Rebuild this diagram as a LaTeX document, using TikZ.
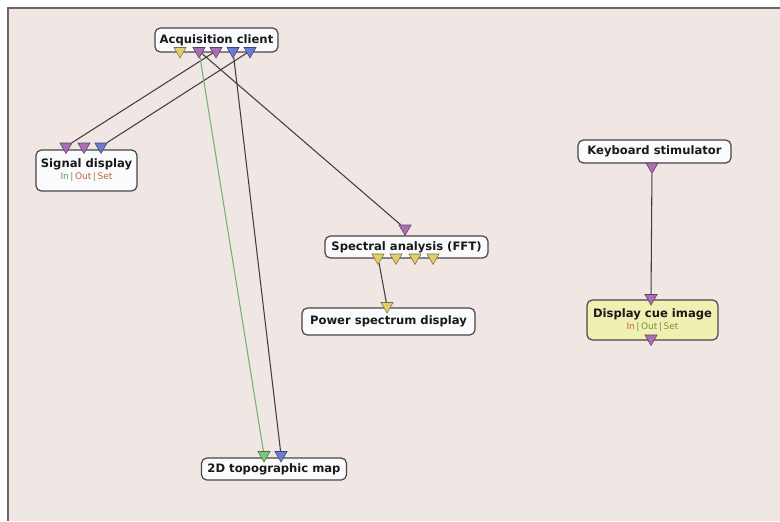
\documentclass[tikz,border=0pt]{standalone}
\usepackage{fontspec}
\setmainfont{DejaVu Sans}
\usetikzlibrary{shapes.geometric,backgrounds}
\definecolor{PageBg}{RGB}{240,230,228}
\definecolor{FrameGray}{RGB}{110,100,100}
\definecolor{BoxLine}{RGB}{75,68,68}
\definecolor{BoxFill}{RGB}{250,251,253}
\definecolor{CueFill}{RGB}{240,240,178}
\definecolor{DarkText}{RGB}{25,25,25}
\definecolor{LinkGray}{RGB}{70,62,62}
\definecolor{LinkGreen}{RGB}{110,180,110}
\definecolor{PinYellow}{RGB}{225,205,110}
\definecolor{PinPurple}{RGB}{170,110,180}
\definecolor{PinBlue}{RGB}{105,125,205}
\definecolor{PinGreen}{RGB}{125,200,120}
\definecolor{TagGreen}{RGB}{110,150,60}
\definecolor{TagBrown}{RGB}{190,100,60}
\newcommand{\iotags}[3]{{\mdseries\fontsize{6.8}{7.5}\selectfont\textcolor{#1}{In}\,\textcolor{gray}{|}\,\textcolor{#2}{Out}\,\textcolor{gray}{|}\,\textcolor{#3}{Set}}}

\begin{document}
\begin{tikzpicture}[
    x=0.75pt, y=-0.75pt,
    box/.style={rectangle, rounded corners=4pt, draw=BoxLine, line width=0.9pt, fill=BoxFill,
        font=\bfseries\fontsize{8.7}{10}\selectfont, text=DarkText, align=center, inner sep=0pt},
    plug/.style={regular polygon, regular polygon sides=3, shape border rotate=180,
        minimum size=10.5pt, inner sep=0pt, draw=#1!55!black, line width=0.4pt, fill=#1},
    link/.style={draw=LinkGray, line width=0.8pt},
    greenlink/.style={draw=LinkGreen, line width=0.8pt}
]
% canvas
\useasboundingbox (0,0) rectangle (780,521);

% boxes
\node[box, minimum width=92.25pt, minimum height=18pt] (acq) at (216.5,40) {Acquisition client};
\node[box, minimum width=75.75pt, minimum height=30.75pt] (sig) at (86.5,170.5) {Signal display\\[-1pt]\iotags{TagGreen}{TagBrown}{TagBrown}};
\node[box, minimum width=122.25pt, minimum height=16.5pt] (fft) at (406.5,247) {Spectral analysis (FFT)};
\node[box, minimum width=129.75pt, minimum height=20.25pt] (psd) at (388.5,321.5) {Power spectrum display};
\node[box, minimum width=114.75pt, minimum height=17.25pt] (kbd) at (654.5,151.5) {Keyboard stimulator};
\node[box, fill=CueFill, minimum width=98.25pt, minimum height=30pt] (cue) at (652.5,320) {Display cue image\\[-1pt]\iotags{TagBrown}{TagGreen}{TagGreen}};
\node[box, minimum width=108.75pt, minimum height=16.5pt] (topo) at (274,469) {2D topographic map};

% plugs of the acquisition client
\node[plug=PinYellow] (acqA) at (180,51) {};
\node[plug=PinPurple] (acqB) at (199,51) {};
\node[plug=PinPurple] (acqC) at (216,51) {};
\node[plug=PinBlue] (acqD) at (233,51) {};
\node[plug=PinBlue] (acqE) at (250,51) {};
% signal display
\node[plug=PinPurple] (sigA) at (66,146.5) {};
\node[plug=PinPurple] (sigB) at (84,146.5) {};
\node[plug=PinBlue] (sigC) at (101,146.5) {};
% spectral analysis
\node[plug=PinPurple] (fftIn) at (405,228.5) {};
\node[plug=PinYellow] (fftA) at (378,257.5) {};
\node[plug=PinYellow] (fftB) at (396,257.5) {};
\node[plug=PinYellow] (fftC) at (415,257.5) {};
\node[plug=PinYellow] (fftD) at (433,257.5) {};
\node[plug=PinYellow] (psdIn) at (387,306) {};
% keyboard and cue
\node[plug=PinPurple] (kbdOut) at (652,166.5) {};
\node[plug=PinPurple] (cueIn) at (651,298) {};
\node[plug=PinPurple] (cueOut) at (651,338.5) {};
% topographic map
\node[plug=PinGreen] (topoA) at (264,455) {};
\node[plug=PinBlue] (topoB) at (281,455) {};

\begin{pgfonlayer}{background}
\fill[white] (0,0) rectangle (780,521);
\fill[PageBg] (8,8) rectangle (780,521);
\draw[FrameGray, line width=1.2pt] (8,521) -- (8,8) -- (780,8);
\draw[link] (acqC) -- (sigA);
\draw[link] (acqE) -- (sigC);
\draw[link] (acqB) -- (fftIn);
\draw[greenlink] (acqB) -- (topoA);
\draw[link] (acqD) -- (topoB);
\draw[link] (fftA) -- (psdIn);
\draw[link] (kbdOut) -- (cueIn);
\end{pgfonlayer}
\end{tikzpicture}
\end{document}
